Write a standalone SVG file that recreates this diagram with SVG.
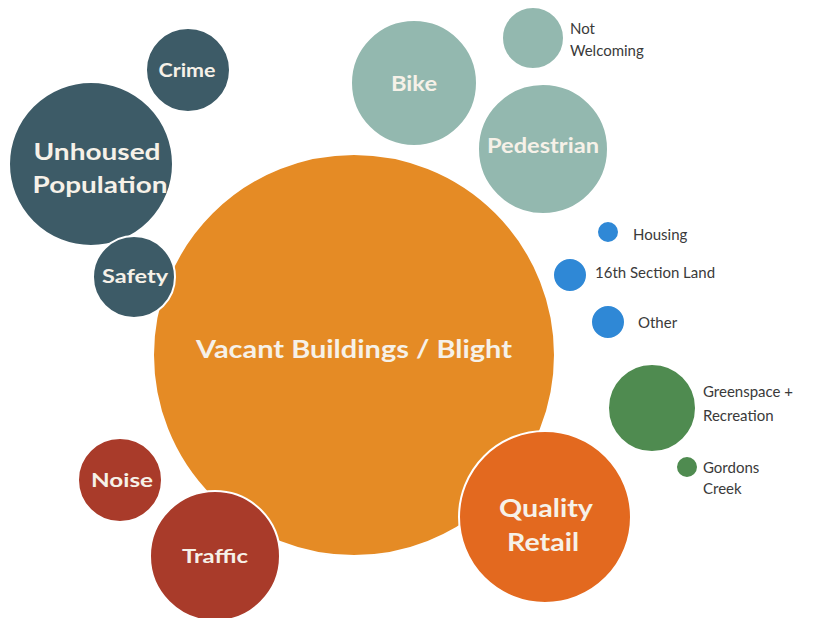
<svg xmlns="http://www.w3.org/2000/svg" width="822" height="618" viewBox="0 0 822 618">
<style>
.c{stroke:#ffffff;stroke-width:2}
.in{font-family:"Lato","Open Sans","Liberation Sans",sans-serif;font-weight:bold;fill:#F6F1E8;text-anchor:middle}
.out{font-family:"Lato","Open Sans","Liberation Sans",sans-serif;font-size:15px;fill:#3A3A3A}
.teal{fill:#3D5B67}.sage{fill:#93B8AF}.blue{fill:#2F88D6}.green{fill:#4F8B50}.qr{fill:#E3691F}.red{fill:#A93B2A}.or{fill:#E58B25}
</style>
<rect width="822" height="618" fill="#ffffff"/>
<g id="vacant">
<circle class="c or" cx="354" cy="355" r="201"/>
<text class="in" x="354" y="358" font-size="24" textLength="316" lengthAdjust="spacingAndGlyphs">Vacant Buildings / Blight</text>
</g>
<g id="unhoused">
<circle class="c teal" cx="91" cy="164" r="82"/>
<text class="in" x="97" y="160" font-size="23" textLength="127" lengthAdjust="spacingAndGlyphs">Unhoused</text>
<text class="in" x="100" y="193" font-size="23" textLength="135" lengthAdjust="spacingAndGlyphs">Population</text>
</g>
<g id="crime">
<circle class="c teal" cx="188" cy="70" r="42"/>
<text class="in" x="187" y="77" font-size="19" textLength="57" lengthAdjust="spacingAndGlyphs">Crime</text>
</g>
<g id="safety">
<circle class="c teal" cx="134" cy="277" r="41"/>
<text class="in" x="135" y="283" font-size="19" textLength="66" lengthAdjust="spacingAndGlyphs">Safety</text>
</g>
<g id="bike">
<circle class="c sage" cx="414" cy="83" r="63"/>
<text class="in" x="414" y="91" font-size="20" textLength="46" lengthAdjust="spacingAndGlyphs">Bike</text>
</g>
<g id="notwelcoming">
<circle class="c sage" cx="533" cy="38" r="31"/>
<text class="out" x="570" y="34">Not</text>
<text class="out" x="570" y="56">Welcoming</text>
</g>
<g id="pedestrian">
<circle class="c sage" cx="543" cy="149" r="65"/>
<text class="in" x="543" y="153" font-size="20" textLength="112" lengthAdjust="spacingAndGlyphs">Pedestrian</text>
</g>
<g id="housing">
<circle class="c blue" cx="608" cy="232" r="11"/>
<text class="out" x="633" y="240">Housing</text>
</g>
<g id="section16">
<circle class="c blue" cx="570" cy="275" r="17"/>
<text class="out" x="595" y="278">16th Section Land</text>
</g>
<g id="other">
<circle class="c blue" cx="608" cy="322" r="17"/>
<text class="out" x="638" y="328">Other</text>
</g>
<g id="greenspace">
<circle class="c green" cx="652" cy="408" r="44"/>
<text class="out" x="703" y="397">Greenspace +</text>
<text class="out" x="703" y="421">Recreation</text>
</g>
<g id="gordons">
<circle class="c green" cx="687" cy="467" r="11"/>
<text class="out" x="703" y="473">Gordons</text>
<text class="out" x="703" y="494">Creek</text>
</g>
<g id="retail">
<circle class="c qr" cx="545" cy="517" r="86"/>
<text class="in" x="546" y="517" font-size="24" textLength="94" lengthAdjust="spacingAndGlyphs">Quality</text>
<text class="in" x="543" y="551" font-size="24" textLength="72" lengthAdjust="spacingAndGlyphs">Retail</text>
</g>
<g id="noise">
<circle class="c red" cx="120" cy="480" r="42"/>
<text class="in" x="122" y="487" font-size="19" textLength="62" lengthAdjust="spacingAndGlyphs">Noise</text>
</g>
<g id="traffic">
<circle class="c red" cx="215" cy="556" r="65"/>
<text class="in" x="215" y="563" font-size="19" textLength="66" lengthAdjust="spacingAndGlyphs">Traffic</text>
</g>
<g id="connectors"></g>
</svg>
